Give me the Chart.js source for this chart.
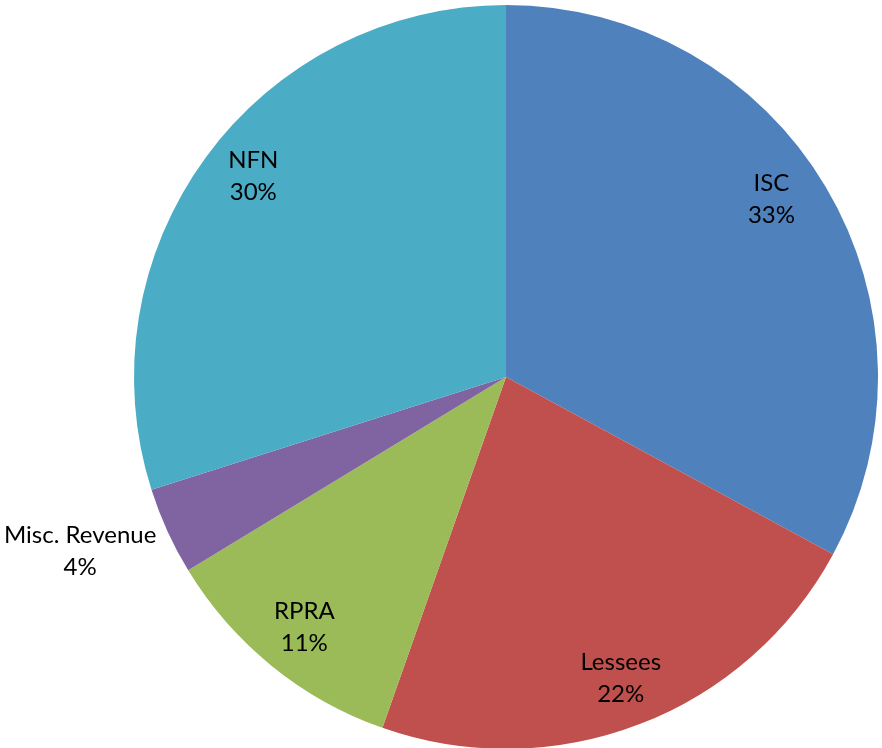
<!DOCTYPE html>
<html>
<head>
<meta charset="utf-8">
<script src="https://cdn.jsdelivr.net/npm/chart.js@4/dist/chart.umd.min.js"></script>
<style>
  html, body { margin: 0; padding: 0; background: #fff; overflow: hidden; }
  canvas { display: block; }
</style>
</head>
<body>
<canvas id="pie" width="882" height="752"></canvas>
<script>
const categories = ["ISC", "Lessees", "RPRA", "Misc. Revenue", "NFN"];
const shares = [32.9, 22.49, 10.91, 3.8, 29.9];
const colors = ["#4F81BD", "#C0504D", "#9BBB59", "#8064A2", "#4BACC6"];

// label placement: distance from centre (fraction of radius) plus a small nudge in px
const labelRadius = [0.865, 0.865, 0.865, 1.24, 0.865];
const labelNudge = [[-11, -13], [-1, 1], [1, 0], [-6, -17], [7, -11]];

const sliceLabels = {
  id: "sliceLabels",
  afterDatasetsDraw(chart) {
    const ctx = chart.ctx;
    const meta = chart.getDatasetMeta(0);
    const total = shares.reduce((a, b) => a + b, 0);
    ctx.save();
    ctx.font = "24px Lato";
    ctx.fillStyle = "#000";
    ctx.textAlign = "center";
    ctx.textBaseline = "middle";
    meta.data.forEach((arc, i) => {
      const p = arc.getProps(["x", "y", "startAngle", "endAngle", "outerRadius"], true);
      const mid = (p.startAngle + p.endAngle) / 2;
      const d = p.outerRadius * labelRadius[i];
      const x = p.x + Math.cos(mid) * d + labelNudge[i][0];
      const y = p.y + Math.sin(mid) * d + labelNudge[i][1];
      ctx.fillText(categories[i], x, y - 16);
      ctx.fillText(Math.round(shares[i] / total * 100) + "%", x, y + 16);
    });
    ctx.restore();
  }
};

new Chart(document.getElementById("pie").getContext("2d"), {
  type: "pie",
  data: {
    labels: categories,
    datasets: [{
      data: shares,
      backgroundColor: colors,
      borderWidth: 0
    }]
  },
  options: {
    responsive: false,
    animation: false,
    layout: { padding: { left: 134, right: 4, top: 5, bottom: 3 } },
    plugins: {
      legend: { display: false },
      tooltip: { enabled: false }
    }
  },
  plugins: [sliceLabels]
});
</script>
</body>
</html>
